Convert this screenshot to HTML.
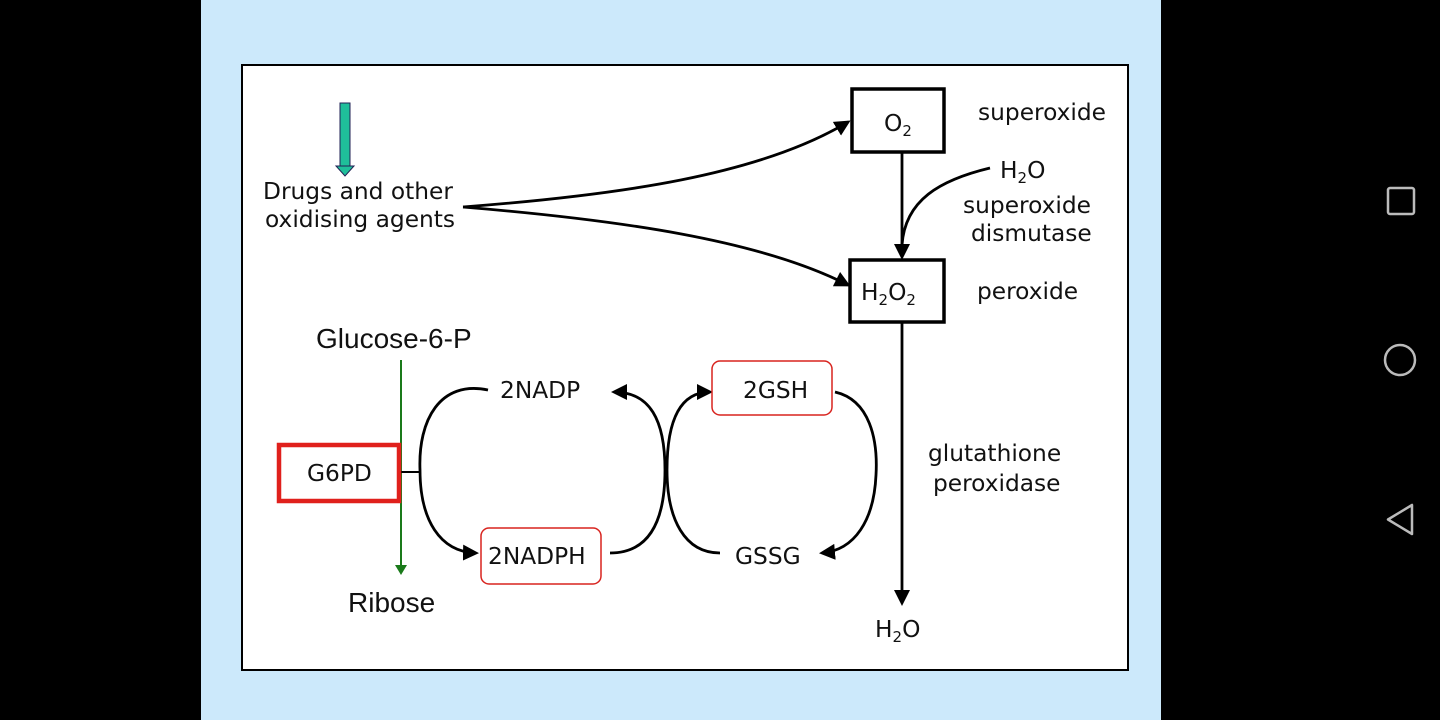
<!DOCTYPE html>
<html><head><meta charset="utf-8"><style>
html,body{margin:0;padding:0;background:#000;width:1440px;height:720px;overflow:hidden}
svg{display:block}
.t{font-family:"DejaVu Sans","Liberation Sans",sans-serif;font-size:23.3px;fill:#111}
.c{font-family:"Liberation Sans",sans-serif;font-size:28px;fill:#111}
</style></head><body>
<svg width="1440" height="720" viewBox="0 0 1440 720">
<defs>
<marker id="gh" markerWidth="10" markerHeight="12" refX="8" refY="6" orient="auto" markerUnits="userSpaceOnUse"><path d="M0,0 L10,6 L0,12 z" fill="#1a7a1a"/></marker>
<marker id="bh" markerWidth="16" markerHeight="16" refX="13" refY="8" orient="auto" markerUnits="userSpaceOnUse"><path d="M0,0 L16,8 L0,16 z" fill="#000"/></marker>
</defs>
<rect x="201" y="0" width="960" height="720" fill="#cce9fb"/>
<rect x="242" y="65" width="886" height="605" fill="#fff" stroke="#000" stroke-width="2"/>

<g>
<rect x="340" y="103" width="10" height="64" fill="#1fbf9a" stroke="#225" stroke-width="1"/>
<path d="M336,166 L354,166 L345,176 z" fill="#1fbf9a" stroke="#225" stroke-width="1"/>
</g>
<text class="t" x="263" y="199">Drugs and other</text>
<text class="t" x="265" y="227">oxidising agents</text>

<path d="M463,207 C620,195 760,175 848,122" fill="none" stroke="#000" stroke-width="2.8" marker-end="url(#bh)"/>
<path d="M463,207 C620,220 760,240 848,285" fill="none" stroke="#000" stroke-width="2.8" marker-end="url(#bh)"/>

<rect x="852" y="89" width="92" height="63" fill="#fff" stroke="#000" stroke-width="3.5"/>
<text class="t" x="884" y="131">O<tspan font-size="15" dy="5">2</tspan></text>
<text class="t" x="978" y="120">superoxide</text>

<text class="t" x="1000" y="178">H<tspan font-size="15" dy="5">2</tspan><tspan dy="-5">O</tspan></text>
<text class="t" x="963" y="213">superoxide</text>
<text class="t" x="971" y="241">dismutase</text>

<path d="M902,152 L902,257" fill="none" stroke="#000" stroke-width="2.8" marker-end="url(#bh)"/>
<path d="M990,168 C940,180 905,200 902,245" fill="none" stroke="#000" stroke-width="2.8"/>

<rect x="850" y="260" width="94" height="62" fill="#fff" stroke="#000" stroke-width="3.5"/>
<text class="t" x="861" y="300">H<tspan font-size="15" dy="5">2</tspan><tspan dy="-5">O</tspan><tspan font-size="15" dy="5">2</tspan></text>
<text class="t" x="977" y="299">peroxide</text>

<path d="M902,322 L902,603" fill="none" stroke="#000" stroke-width="2.8" marker-end="url(#bh)"/>
<text class="t" x="875" y="637">H<tspan font-size="15" dy="5">2</tspan><tspan dy="-5">O</tspan></text>
<text class="t" x="928" y="461">glutathione</text>
<text class="t" x="933" y="491">peroxidase</text>

<text class="c" x="316" y="348">Glucose-6-P</text>
<path d="M401,360 L401,573" stroke="#1a7a1a" stroke-width="2" fill="none" marker-end="url(#gh)"/>
<text class="c" x="348" y="612">Ribose</text>

<path d="M399,472 L420,472" stroke="#000" stroke-width="2"/>
<path d="M488,390 C440,380 418,420 420,470 C420,520 440,552 476,553" fill="none" stroke="#000" stroke-width="2.8" marker-end="url(#bh)"/>
<rect x="279" y="445" width="120" height="56" fill="#fff" stroke="#e0201c" stroke-width="4.5"/>
<text class="t" x="307" y="481">G6PD</text>

<text class="t" x="500" y="398">2NADP</text>
<rect x="481" y="528" width="120" height="56" rx="8" fill="#fff" stroke="#d8241f" stroke-width="1.5"/>
<text class="t" x="488" y="564">2NADPH</text>

<path d="M610,553 C650,553 665,520 665,470 C665,420 650,392 614,392" fill="none" stroke="#000" stroke-width="2.8" marker-end="url(#bh)"/>
<path d="M720,553 C685,553 667,520 667,470 C667,420 680,392 710,392" fill="none" stroke="#000" stroke-width="2.8" marker-end="url(#bh)"/>
<path d="M835,392 C870,400 878,440 876,475 C874,520 855,550 822,553" fill="none" stroke="#000" stroke-width="2.8" marker-end="url(#bh)"/>

<rect x="712" y="361" width="120" height="54" rx="8" fill="#fff" stroke="#d8241f" stroke-width="1.5"/>
<text class="t" x="743" y="398">2GSH</text>
<text class="t" x="735" y="564">GSSG</text>

<rect x="1388" y="188" width="26" height="26" rx="2" fill="none" stroke="#bbb" stroke-width="2.5"/>
<circle cx="1400" cy="360" r="15" fill="none" stroke="#bbb" stroke-width="2.5"/>
<path d="M1412,505 L1412,534 L1388,519.5 z" fill="none" stroke="#bbb" stroke-width="2.5" stroke-linejoin="round"/>
</svg>
</body></html>
